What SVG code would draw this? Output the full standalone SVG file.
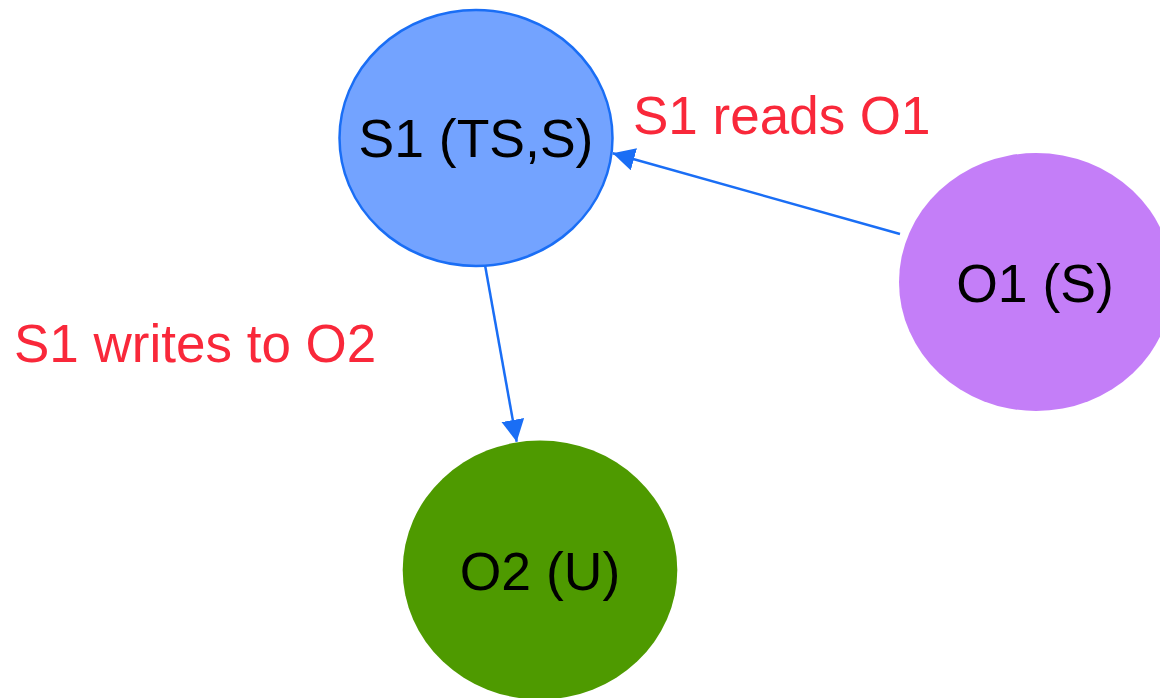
<svg xmlns="http://www.w3.org/2000/svg" width="1160" height="698" viewBox="0 0 1160 698">
<style>
.lbl{font-family:"Liberation Sans",Arial,sans-serif;font-size:53.5px;fill:#000;text-anchor:middle}
.elbl{font-family:"Liberation Sans",Arial,sans-serif;font-size:53px;fill:#f9283a}
.edge{stroke:#1a6ef5;stroke-width:2.5;fill:none}
</style>
<defs>
<marker id="arr" markerUnits="userSpaceOnUse" markerWidth="26" markerHeight="26" refX="22" refY="11.5" orient="auto">
<path d="M0,0 L22,11.5 L0,23 Z" fill="#1a6ef5"/>
</marker>
</defs>
<rect width="1160" height="698" fill="#fff"/>
<g id="connectors">
<line class="edge" x1="900" y1="234" x2="612.7" y2="153.3" marker-end="url(#arr)"/>
<line class="edge" x1="485" y1="265" x2="516.7" y2="441.7" marker-end="url(#arr)"/>
<text class="elbl" x="633" y="134">S1 reads O1</text>
<text class="elbl" x="14" y="362">S1 writes to O2</text>
</g>
<g id="S1">
<ellipse cx="476" cy="138" rx="136.5" ry="128" fill="#73a3ff" stroke="#1a6ef5" stroke-width="2.5"/>
<text class="lbl" x="476" y="157">S1 (TS,S)</text>
</g>
<g id="O1">
<ellipse cx="1036" cy="282" rx="137" ry="129" fill="#c47ef8"/>
<text class="lbl" x="1035" y="302">O1 (S)</text>
</g>
<g id="O2">
<ellipse cx="540" cy="570" rx="137.3" ry="129.5" fill="#4e9a00"/>
<text class="lbl" x="540" y="590">O2 (U)</text>
</g>
</svg>
